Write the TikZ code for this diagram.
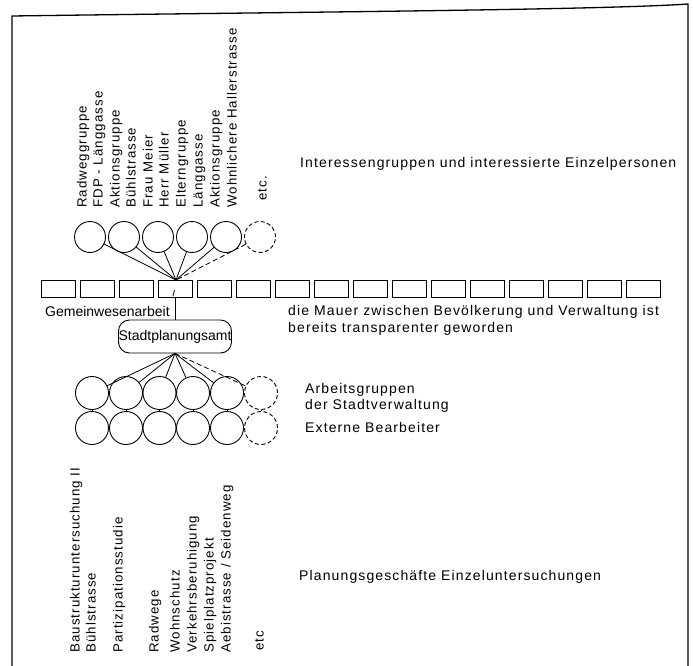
\documentclass[tikz,border=0pt]{standalone}
\usepackage{fontspec}
\setmainfont{Liberation Sans}
\newfontfamily\lsp[LetterSpace=8]{Liberation Sans}
\newfontfamily\lsq{Liberation Sans}
\begin{document}
\begin{tikzpicture}[x=1pt,y=-1pt,
  lab/.style={font=\lsp\fontsize{14}{16}\selectfont, inner sep=0pt},
  vlab/.style={font=\lsp\fontsize{13.3}{15}\selectfont, inner sep=0pt, rotate=90, anchor=mid west},
  hlab/.style={lab, anchor=base west},
  circ/.style={circle, draw, line width=0.9pt, minimum size=31pt, inner sep=0pt},
  dcirc/.style={circ, dash pattern=on 4pt off 2.5pt},
  lcirc/.style={circle, draw, line width=0.9pt, minimum size=33pt, inner sep=0pt},
  ldcirc/.style={lcirc, dash pattern=on 4pt off 2.5pt},
  brick/.style={draw, minimum width=34pt, minimum height=17pt, inner sep=0pt, line width=0.8pt},
  con/.style={line width=0.8pt},
  dcon/.style={con, dash pattern=on 5pt off 3pt},
  frame/.style={line width=1.3pt}]
\useasboundingbox (0,0) rectangle (693,666);
% frame
\coordinate (fa) at (12,666);
\coordinate (fb) at (12,16);
\coordinate (fc) at (688,4);
\coordinate (fd) at (688,666);
\draw[frame] (fa) -- (fb) .. controls (300,12) and (600,10) .. (fc) -- (fd);

% top rotated labels
\node[vlab] (ta) at (84,208) {Radweggruppe};
\node[vlab] (tb) at (100,208) {FDP - Länggasse};
\node[vlab] (tc) at (117,208) {Aktionsgruppe};
\node[vlab] (td) at (133,208) {Bühlstrasse};
\node[vlab] (te) at (150,208) {Frau Meier};
\node[vlab] (tf) at (166,208) {Herr Müller};
\node[vlab] (tg) at (183,208) {Elterngruppe};
\node[vlab] (th) at (200,208) {Länggasse};
\node[vlab] (ti) at (217,208) {Aktionsgruppe};
\node[vlab] (tj) at (234,208) {Wohnlichere  Hallerstrasse};
\node[vlab] (tk) at (264,201) {etc.};

% top circles
\node[circ] (c1) at (90,237) {};
\node[circ] (c2) at (124,237) {};
\node[circ] (c3) at (158,237) {};
\node[circ] (c4) at (192,237) {};
\node[circ] (c5) at (226,237) {};
\node[dcirc] (c6) at (260,237) {};

% wall
\foreach \i in {0,...,15} {
  \node[brick] (w\i) at ({58+39*\i},288.5) {};
}
\coordinate (conv) at (176,280);
\foreach \c in {c1,c2,c3,c4,c5} {\draw[con] (\c) -- (conv);}
\draw[dcon] (c6) -- (conv);
\coordinate (tk1) at (174.5,290);
\coordinate (tk2) at (173,296);
\draw[con] (tk1) -- (tk2);

% texts
\node[hlab] (ig) at (300,167) {Interessengruppen  und  interessierte  Einzelpersonen};
\node[hlab, font=\lsq\fontsize{14}{16}\selectfont] (gw) at (45,316) {Gemeinwesenarbeit};
\node[hlab] (m1) at (288,315) {die  Mauer  zwischen  Bevölkerung  und  Verwaltung  ist};
\node[hlab] (m2) at (288,332) {bereits  transparenter  geworden};

% Stadtplanungsamt
\node[draw, line width=0.9pt, rounded corners=11pt, minimum width=113pt, minimum height=33pt, inner sep=0pt,
      font=\lsq\fontsize{14}{16}\selectfont] (spa) at (175,336.5) {Stadtplanungsamt};
\draw[con] (175,297) -- (spa.north);

% lower circles
\node[lcirc] (u1) at (92,393) {};
\node[lcirc] (u2) at (126,393) {};
\node[lcirc] (u3) at (159.5,393) {};
\node[lcirc] (u4) at (193,393) {};
\node[lcirc] (u5) at (227,393) {};
\node[ldcirc] (u6) at (261,393) {};
\node[lcirc] (l1) at (92,428) {};
\node[lcirc] (l2) at (126,428) {};
\node[lcirc] (l3) at (159.5,428) {};
\node[lcirc] (l4) at (193,428) {};
\node[lcirc] (l5) at (227,428) {};
\node[ldcirc] (l6) at (261,428) {};
\foreach \u in {u1,u2,u3,u4,u5} {\draw[con] (spa.south) -- (\u);}
\draw[dcon] (spa.south) -- (u6);
\foreach \k in {1,...,6} {\draw[con] (u\k.south) -- (l\k.north);}

\node[hlab] (ag1) at (305,393) {Arbeitsgruppen};
\node[hlab] (ag2) at (305,409) {der  Stadtverwaltung};
\node[hlab] (eb) at (305,432) {Externe  Bearbeiter};

% bottom rotated labels
\node[vlab] (ba) at (77,653) {Baustrukturuntersuchung  II};
\node[vlab] (bb) at (93,653) {Bühlstrasse};
\node[vlab] (bc) at (120,653) {Partizipationsstudie};
\node[vlab] (bd) at (156,653) {Radwege};
\node[vlab] (be) at (177,653) {Wohnschutz};
\node[vlab] (bf) at (194,653) {Verkehrsberuhigung};
\node[vlab] (bg) at (211,653) {Spielplatzprojekt};
\node[vlab] (bh) at (228,653) {Aebistrasse / Seidenweg};
\node[vlab] (bi) at (261,651) {etc};

\node[hlab] (pg) at (299,580) {Planungsgeschäfte  Einzeluntersuchungen};
\end{tikzpicture}
\end{document}
